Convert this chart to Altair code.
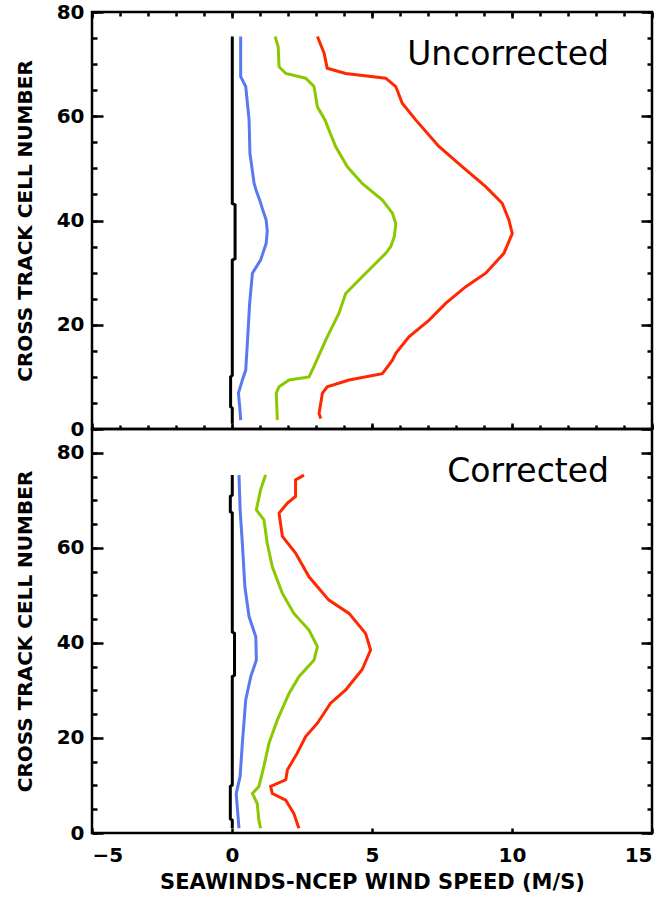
import altair as alt
import pandas as pd

# ---------------- text ----------------
panel_titles = ["Uncorrected", "Corrected"]
x_title = "SEAWINDS-NCEP WIND SPEED (M/S)"
y_title = "CROSS TRACK CELL NUMBER"

# ---------------- ticks ----------------
x_major = [-5, 0, 5, 10, 15]
x_minor = list(range(-5, 16))
y_major = [0, 20, 40, 60, 80]
y_minor = list(range(0, 81, 5))

series_names = ["black", "blue", "green", "red"]
series_colors = ["#000000", "#5a78f0", "#8cc800", "#ff2800"]

# ---------------- top panel (Uncorrected) ----------------
top_black_cell = [1.0, 4.0, 4.3, 10.0, 10.3, 32.4, 32.7, 43.0, 43.3, 75.3]
top_black_val = [0.01, 0.01, -0.05, -0.05, 0.01, 0.01, 0.11, 0.11, 0.01, 0.01]

top_blue_cell = [1.7, 4.0, 6.9, 9.4, 11.3, 17.5, 24.1, 27.0, 29.9, 32.4, 35.6, 38.0,
                 40.1, 42.0, 43.9, 45.5, 47.1, 52.9, 59.3, 65.7, 67.6, 75.3]
top_blue_val = [0.31, 0.28, 0.23, 0.37, 0.49, 0.56, 0.63, 0.68, 0.73, 1.02, 1.22, 1.26,
                1.22, 1.10, 0.99, 0.88, 0.79, 0.64, 0.61, 0.49, 0.31, 0.31]

top_green_cell = [1.7, 6.9, 8.1, 9.4, 10.0, 12.0, 17.1, 22.2, 26.0, 29.2, 33.7, 35.0,
                  37.0, 39.4, 41.4, 43.9, 47.1, 50.3, 54.2, 59.3, 61.8, 65.7, 67.3,
                  68.2, 69.5, 73.3, 75.3]
top_green_val = [1.62, 1.58, 1.68, 2.04, 2.75, 2.93, 3.35, 3.82, 4.06, 4.65, 5.49, 5.67,
                 5.80, 5.85, 5.73, 5.37, 4.65, 4.12, 3.70, 3.32, 3.05, 2.93, 2.63,
                 1.92, 1.68, 1.65, 1.54]

top_red_cell = [2.0, 3.0, 6.9, 8.1, 9.4, 10.6, 13.2, 14.5, 17.7, 20.9, 24.1, 27.3, 29.9,
                33.7, 37.5, 40.1, 43.3, 46.5, 50.3, 54.2, 59.3, 62.5, 65.7, 67.3, 68.2,
                69.2, 72.1, 75.3]
top_red_val = [3.17, 3.11, 3.23, 3.40, 4.18, 5.37, 5.73, 5.85, 6.32, 7.04, 7.63, 8.35, 9.06,
               9.71, 10.01, 9.89, 9.65, 9.06, 8.23, 7.39, 6.56, 6.08, 5.85, 5.49, 4.06,
               3.40, 3.29, 3.05]

# ---------------- bottom panel (Corrected) ----------------
bot_black_cell = [1.0, 2.7, 3.0, 9.8, 10.1, 32.9, 33.2, 42.0, 42.3, 67.3, 67.6, 70.8, 71.1, 75.3]
bot_black_val = [0.01, 0.01, -0.06, -0.06, 0.01, 0.01, 0.09, 0.09, 0.01, 0.01, -0.06, -0.06, 0.01, 0.01]

bot_blue_cell = [1.0, 8.3, 11.9, 18.9, 28.0, 32.9, 36.4, 41.3, 45.5, 51.8, 60.9, 68.0, 75.3]
bot_blue_val = [0.25, 0.15, 0.29, 0.37, 0.49, 0.67, 0.87, 0.85, 0.61, 0.46, 0.37, 0.29, 0.25]

bot_green_cell = [1.0, 2.7, 6.2, 8.3, 9.8, 14.0, 18.9, 23.8, 29.4, 32.9, 36.4, 39.2, 42.7,
                  46.2, 50.4, 56.0, 60.9, 65.9, 68.0, 72.2, 75.3]
bot_green_val = [1.02, 0.96, 0.90, 0.73, 0.96, 1.14, 1.32, 1.62, 2.04, 2.39, 2.93, 3.05, 2.75,
                 2.21, 1.80, 1.44, 1.26, 1.14, 0.87, 1.02, 1.20]

bot_red_cell = [1.0, 2.0, 4.1, 6.9, 8.3, 9.8, 11.2, 13.3, 16.8, 20.3, 23.1, 27.3, 30.1,
                34.4, 38.5, 42.0, 46.2, 49.0, 53.9, 58.9, 62.4, 67.3, 69.4, 70.8, 74.3, 75.3]
bot_red_val = [2.39, 2.33, 2.21, 1.92, 1.44, 1.38, 1.92, 1.98, 2.33, 2.63, 3.05, 3.52, 4.06,
               4.65, 4.95, 4.77, 4.18, 3.46, 2.75, 2.27, 1.80, 1.68, 1.98, 2.27, 2.27, 2.57]

FONT = "DejaVu Sans"
W = 560


def build_df(cells_list, vals_list):
    rows = []
    for name, cells, vals in zip(series_names, cells_list, vals_list):
        for c, v in zip(cells, vals):
            rows.append({"series": name, "cell": c, "speed": v})
    return pd.DataFrame(rows)


def tick_axis(orient, values, size, **kw):
    return alt.Axis(orient=orient, values=values, tickSize=size, offset=-size,
                    tickWidth=2.5, tickColor="black", domain=False, grid=False,
                    labels=kw.pop("labels", False), title=kw.pop("title", None), **kw)


def panel(df, ymax, height, label, is_bottom):
    xs = alt.Scale(domain=[-5, 15], nice=False, zero=False)
    ys = alt.Scale(domain=[0, ymax], nice=False, zero=False)
    color = alt.Color("series:N", scale=alt.Scale(domain=series_names, range=series_colors),
                      legend=None)
    left_axis = tick_axis("left", y_major, 11, labels=True, title=y_title,
                          labelFont=FONT, labelFontSize=20, labelFontWeight="bold",
                          labelColor="black", labelPadding=8, format="d",
                          titleFont=FONT, titleFontSize=20, titleFontWeight="bold",
                          titleColor="black", titlePadding=21)
    if is_bottom:
        bottom_axis = tick_axis("bottom", x_major, 5, labels=True, title=x_title,
                                labelFont=FONT, labelFontSize=20, labelFontWeight="bold",
                                labelColor="black", labelPadding=12, format="d",
                                titleFont=FONT, titleFontSize=21, titleFontWeight="bold",
                                titleColor="black", titlePadding=6)
    else:
        bottom_axis = tick_axis("bottom", x_major, 6)

    base = alt.Chart(df)
    lines = base.mark_line(strokeWidth=3).encode(
        x=alt.X("speed:Q", scale=xs, axis=bottom_axis),
        y=alt.Y("cell:Q", scale=ys, axis=left_axis),
        color=color,
        detail="series:N",
        order=alt.Order("cell:Q"),
    )
    ax2 = base.mark_point(opacity=0).encode(
        x=alt.X("speed:Q", scale=xs, axis=tick_axis("top", x_major, 6) if not is_bottom else None),
        y=alt.Y("cell:Q", scale=ys, axis=tick_axis("right", y_major, 11)),
    )
    ax3 = base.mark_point(opacity=0).encode(
        x=alt.X("speed:Q", scale=xs, axis=tick_axis("bottom", x_minor, 4) if not is_bottom else None),
        y=alt.Y("cell:Q", scale=ys, axis=tick_axis("left", y_minor, 5)),
    )
    ax4 = base.mark_point(opacity=0).encode(
        x=alt.X("speed:Q", scale=xs, axis=tick_axis("top", x_minor, 4) if not is_bottom else None),
        y=alt.Y("cell:Q", scale=ys, axis=tick_axis("right", y_minor, 5)),
    )
    txt = alt.Chart(pd.DataFrame({"label": [label]})).mark_text(
        align="right", baseline="middle", font=FONT, fontSize=33, color="black"
    ).encode(text="label:N", x=alt.value(517), y=alt.value(43))
    return alt.layer(lines, ax2, ax3, ax4, txt).resolve_axis(
        x="independent", y="independent").properties(width=W, height=height)


top_df = build_df([top_black_cell, top_blue_cell, top_green_cell, top_red_cell],
                  [top_black_val, top_blue_val, top_green_val, top_red_val])
bot_df = build_df([bot_black_cell, bot_blue_cell, bot_green_cell, bot_red_cell],
                  [bot_black_val, bot_blue_val, bot_green_val, bot_red_val])

top = panel(top_df, 80, 417, panel_titles[0], False)
bottom = panel(bot_df, 85, 404, panel_titles[1], True)

chart = alt.vconcat(top, bottom, spacing=0, bounds="flush").configure_view(
    stroke="black", strokeWidth=2.5
).properties(padding={"left": 13, "top": 0, "right": 5, "bottom": 5}, background="white")

chart.save("out.html", embed_options={"renderer": "svg", "actions": False})
